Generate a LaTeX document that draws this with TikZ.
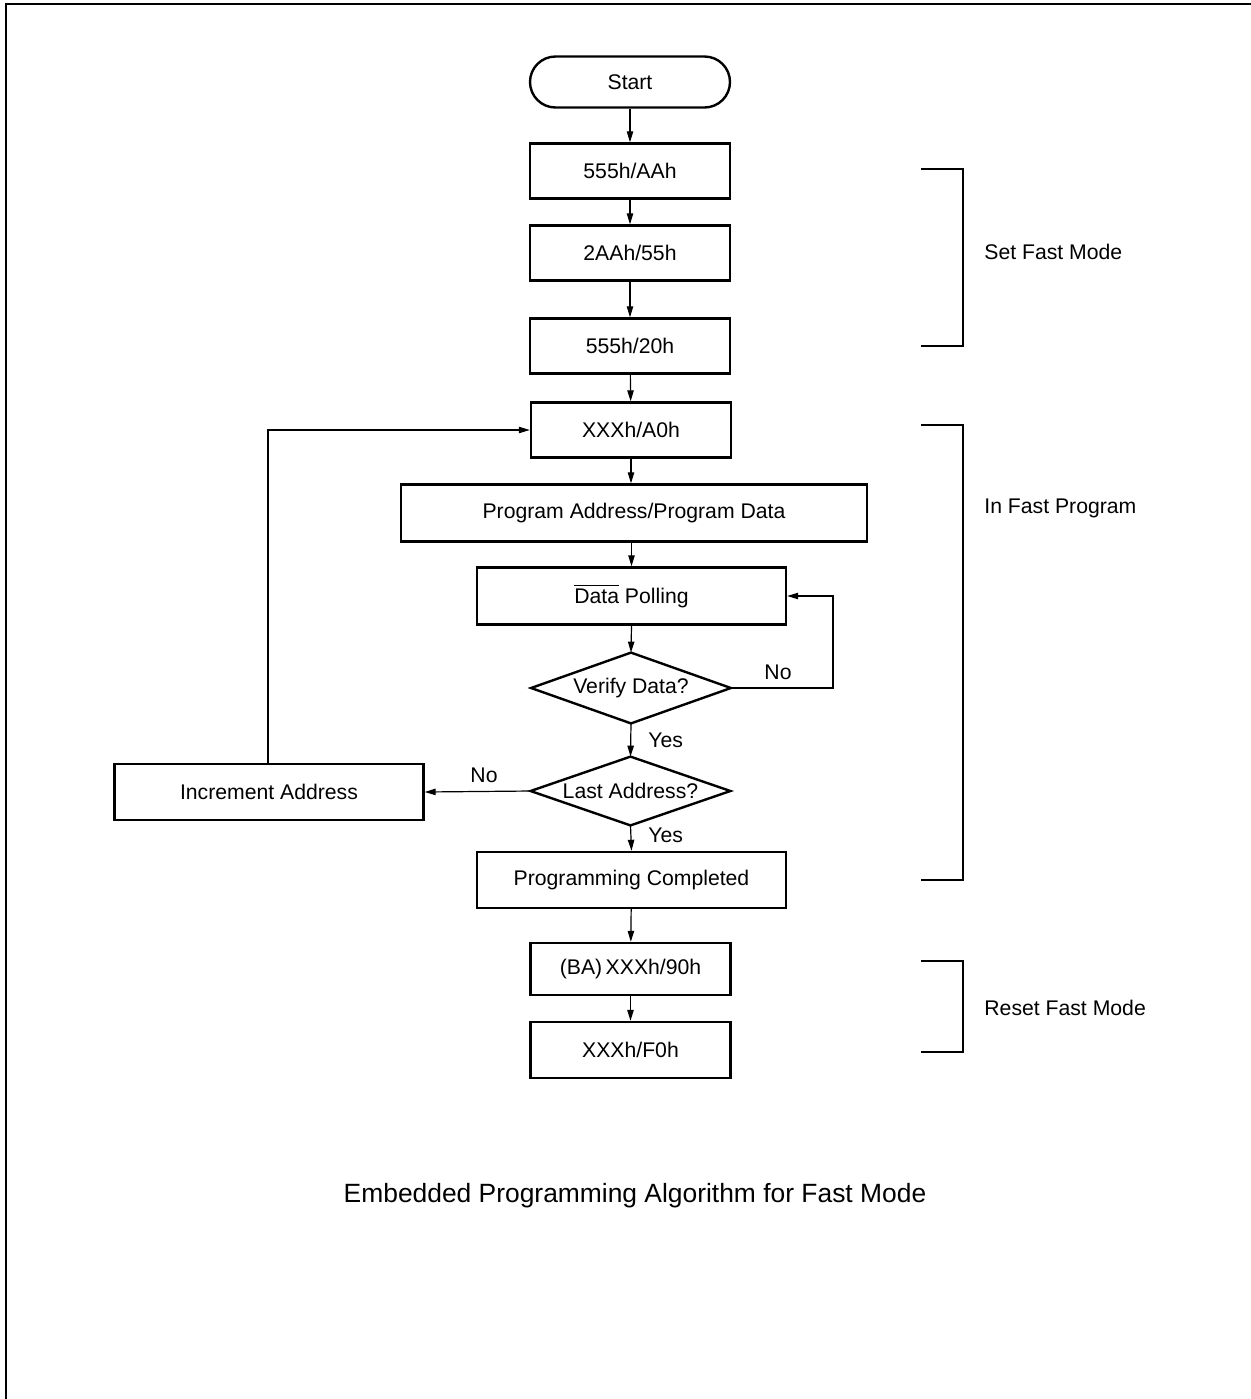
\documentclass[tikz,border=0pt]{standalone}
\usepackage{fontspec}
\setmainfont{Liberation Sans}
\usetikzlibrary{arrows.meta}
\begin{document}
\begin{tikzpicture}[x=0.5pt,y=-0.5pt,
  every node/.style={font=\fontsize{10.6}{12}\selectfont},
  stepbox/.style={draw, line width=1.2pt, inner sep=0pt, minimum width=100pt, minimum height=27.5pt},
  widebox/.style={stepbox, minimum width=154.5pt, minimum height=28pt},
  termbox/.style={stepbox, minimum height=25.5pt, rounded corners=12.75pt},
  dshape/.style={inner sep=0pt, minimum width=99.5pt, minimum height=35pt},
  dline/.style={line width=1.2pt, line join=miter},
  conn/.style={line width=0.6pt, -{Triangle[length=5.5pt,width=3.2pt]}},
  plain/.style={line width=0.6pt},
  brk/.style={line width=0.6pt},
  lbl/.style={inner sep=0pt}
]
\useasboundingbox (0,0) rectangle (1251,1399);
% page border (top and left)
\draw[line width=1pt] (6,1399) -- (6,4) -- (1251,4);

% main column
\node[termbox] (start) at (630,82) {Start};
\node[stepbox] (s1) at (630,171) {555h/AAh};
\node[stepbox] (s2) at (630,253) {2AAh/55h};
\node[stepbox] (s3) at (630,346) {555h/20h};
\node[stepbox] (s4) at (631,430) {XXXh/A0h};
\node[stepbox, minimum width=233pt, minimum height=28.5pt] (pa) at (634,513) {Program Address/Program Data};
\node[widebox, minimum height=28.5pt] (dp) at (631.5,596) {\(\overline{\hbox{Data}}\) Polling};
\node[dshape] (vd) at (631,688) {Verify Data?};
\draw[dline] (vd.west) -- (vd.north) -- (vd.east) -- (vd.south) -- cycle;
\node[dshape, minimum height=34pt] (la) at (630.5,791) {Last Address?};
\draw[dline] (la.west) -- (la.north) -- (la.east) -- (la.south) -- cycle;
\node[widebox] (inc) at (269,792) {Increment Address};
\node[widebox] (pc) at (631.5,880) {Programming Completed};
\node[stepbox, minimum height=26pt] (ba) at (630.5,969) {(BA)\,XXXh/90h};
\node[stepbox, minimum height=28pt] (f0) at (630.5,1050) {XXXh/F0h};

% connectors
\draw[conn] (start) -- (s1);
\draw[conn] (s1) -- (s2);
\draw[conn] (s2) -- (s3);
\draw[conn] (s3) -- (s4);
\draw[conn] (s4.south) -- (s4.south |- pa.north);
\draw[conn] (pa.south -| dp.north) -- (dp.north);
\draw[conn] (dp.south) -- (vd.north);
\draw[conn] (vd.south) -- (la.north);
\draw[conn] (la.south) -- (pc.north);
\draw[conn] (pc) -- (ba);
\draw[conn] (ba) -- (f0);
\coordinate (vdr) at (833,688);
\draw[conn] (vd.east) -- (vdr) |- (dp.east);
\draw[conn] (la.west) -- (inc.east);
\coordinate (loop) at (268,430);
\draw[conn] (inc.north -| loop) -- (loop) -- (s4.west);

% decision labels
\node[lbl] (no1) at (778,672) {No};
\node[lbl, anchor=west] (yes1) at (648,740) {Yes};
\node[lbl] (no2) at (484,775) {No};
\node[lbl, anchor=west] (yes2) at (648,835) {Yes};

% brackets
\coordinate (b1t) at (921,169); \coordinate (b1b) at (921,346);
\draw[brk] (b1t) -- ++(42,0) |- (b1b);
\node[lbl, anchor=west] (t1) at (984,252) {Set Fast Mode};
\coordinate (b2t) at (921,425); \coordinate (b2b) at (921,880);
\draw[brk] (b2t) -- ++(42,0) |- (b2b);
\node[lbl, anchor=west] (t2) at (984,508) {In Fast Program};
\coordinate (b3t) at (921,961); \coordinate (b3b) at (921,1052);
\draw[brk] (b3t) -- ++(42,0) |- (b3b);
\node[lbl, anchor=west] (t3) at (984,1008) {Reset Fast Mode};

% caption
\node[lbl, font=\fontsize{13.2}{15}\selectfont] (cap) at (635,1196) {Embedded Programming Algorithm for Fast Mode};
\end{tikzpicture}
\end{document}
